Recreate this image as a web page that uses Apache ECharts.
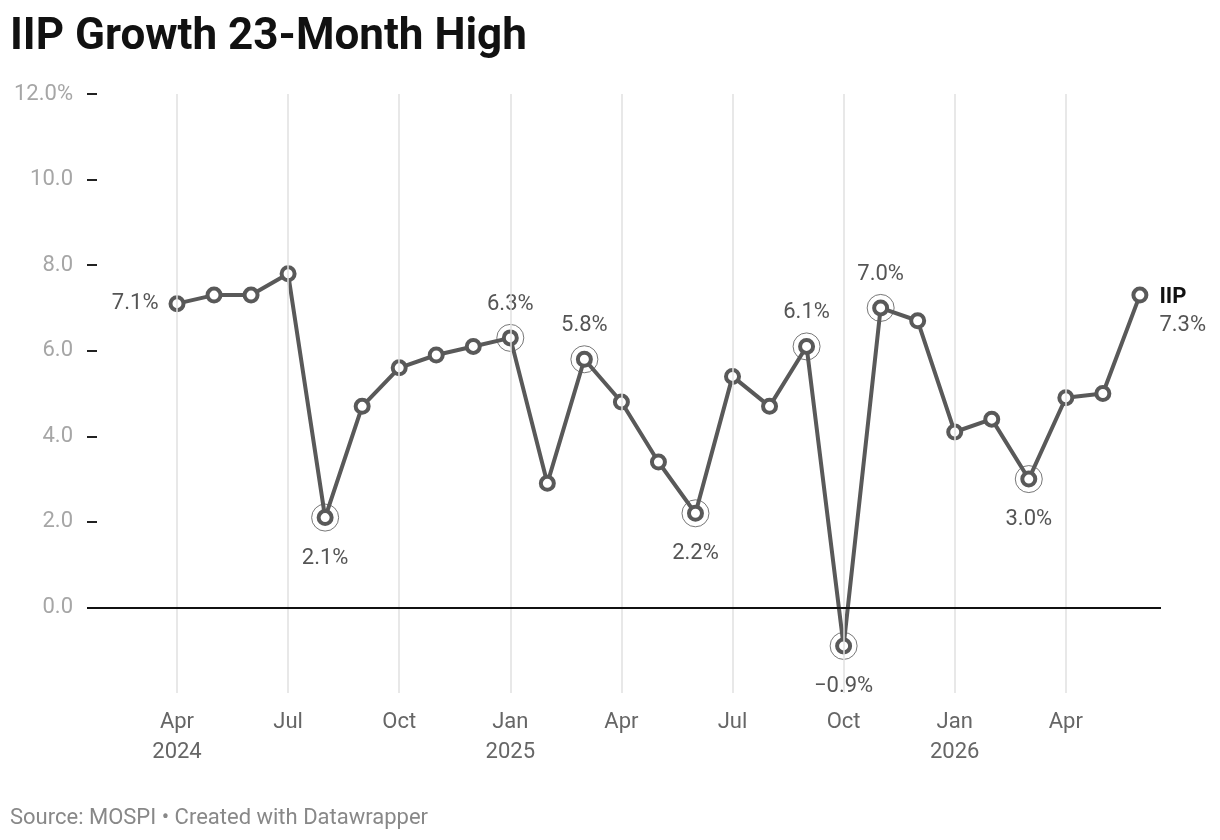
<!DOCTYPE html>
<html>
<head>
<meta charset="utf-8">
<script src="https://cdn.jsdelivr.net/npm/echarts@6/dist/echarts.min.js"></script>
<style>
  html, body { margin: 0; padding: 0; background: #fff; }
  #chart { width: 1220px; height: 840px; }
</style>
</head>
<body>
<div id="chart"></div>
<script>
// IIP growth, % y-o-y
const months = [
  'Apr 2024', 'May 2024', 'Jun 2024', 'Jul 2024', 'Aug 2024', 'Sep 2024', 'Oct 2024', 'Nov 2024', 'Dec 2024',
  'Jan 2025', 'Feb 2025', 'Mar 2025', 'Apr 2025', 'May 2025', 'Jun 2025', 'Jul 2025', 'Aug 2025', 'Sep 2025',
  'Oct 2025', 'Nov 2025', 'Dec 2025', 'Jan 2026', 'Feb 2026', 'Mar 2026', 'Apr 2026', 'May 2026', 'Jun 2026'
];
const iip = [
  7.1, 7.3, 7.3, 7.8, 2.1, 4.7, 5.6, 5.9, 6.1,
  6.3, 2.9, 5.8, 4.8, 3.4, 2.2, 5.4, 4.7, 6.1,
  -0.9, 7.0, 6.7, 4.1, 4.4, 3.0, 4.9, 5.0, 7.3
];
const xTicks = ['Apr 2024', 'Jul 2024', 'Oct 2024', 'Jan 2025', 'Apr 2025', 'Jul 2025', 'Oct 2025', 'Jan 2026', 'Apr 2026'];
const yTicks = [0, 2, 4, 6, 8, 10, 12];
const highlighted = ['Aug 2024', 'Jan 2025', 'Mar 2025', 'Jun 2025', 'Sep 2025', 'Oct 2025', 'Nov 2025', 'Mar 2026'];
const seriesName = 'IIP';

// where the value labels go
const labelSide = {
  'Apr 2024': 'left', 'Aug 2024': 'bottom', 'Jan 2025': 'top', 'Mar 2025': 'top',
  'Jun 2025': 'bottom', 'Sep 2025': 'top', 'Oct 2025': 'bottom', 'Nov 2025': 'top',
  'Mar 2026': 'bottom', 'Jun 2026': 'end'
};

const FONT = 'Roboto, "Noto Sans", sans-serif';
const LINE = '#595959';

function pct(v) {
  const s = Math.abs(v).toFixed(1) + '%';
  return v < 0 ? '\u2212' + s : s;
}

const lineData = iip.map((v, i) => {
  const item = { value: [i, v] };
  const side = labelSide[months[i]];
  if (side === 'end') {
    item.label = {
      show: true, position: 'right', distance: 11, offset: [0, 16],
      formatter: '{n|' + seriesName + '}\n{v|' + pct(v) + '}',
      rich: {
        n: { fontFamily: FONT, fontSize: 22, fontWeight: 'bold', color: '#111', lineHeight: 28 },
        v: { fontFamily: FONT, fontSize: 22, color: '#555', lineHeight: 28 }
      }
    };
  } else if (side) {
    item.label = {
      show: true, position: side,
      distance: side === 'top' ? 14 : side === 'bottom' ? 21 : 10,
      formatter: pct(v)
    };
  }
  return item;
});

const ringData = highlighted.map(m => [months.indexOf(m), iip[months.indexOf(m)]]);

const gridMarks = xTicks.map(m => ({ xAxis: months.indexOf(m) }));

const chart = echarts.init(document.getElementById('chart'));
chart.setOption({
  animation: false,
  textStyle: { fontFamily: FONT },
  title: [
    {
      text: 'IIP Growth 23-Month High',
      left: 10, top: 16, padding: 0,
      textStyle: { fontFamily: FONT, fontSize: 44, fontWeight: 'bold', color: '#111' }
    },
    {
      text: 'Source: MOSPI \u2022 Created with Datawrapper',
      left: 10, top: 807, padding: 0,
      textStyle: { fontFamily: FONT, fontSize: 22, fontWeight: 'normal', color: '#888' }
    }
  ],
  grid: { left: 87, right: 59, top: 94, bottom: 147, containLabel: false },
  xAxis: {
    type: 'value',
    min: -2.43, max: 26.57,
    splitLine: { show: false },
    axisLine: { show: false },
    axisTick: { show: false },
    axisLabel: {
      customValues: xTicks.map(m => months.indexOf(m)),
      margin: 14,
      fontFamily: FONT, fontSize: 22, color: '#666', lineHeight: 30,
      formatter: v => {
        const [mon, yr] = months[Math.round(v)].split(' ');
        return (mon === 'Jan' || Math.round(v) === 0) ? mon + '\n' + yr : mon;
      }
    }
  },
  yAxis: {
    type: 'value',
    min: -2, max: 12,
    splitLine: { show: false },
    axisLine: { show: false, onZero: false },
    axisTick: {
      show: true, inside: true, length: 10,
      customValues: yTicks.filter(t => t !== 0),
      lineStyle: { color: '#222', width: 2 }
    },
    axisLabel: {
      customValues: yTicks,
      margin: 14,
      fontFamily: FONT, fontSize: 22, color: '#a6a6a6',
      formatter: v => v === 12 ? v.toFixed(1) + '%' : v.toFixed(1)
    }
  },
  series: [
    {
      type: 'line',
      data: [],
      silent: true,
      z: 1,
      markLine: {
        silent: true,
        symbol: 'none',
        label: { show: false },
        data: [
          ...gridMarks.map(d => Object.assign({ lineStyle: { color: '#e0e0e0', width: 1.5, type: 'solid' } }, d)),
          { yAxis: 0, lineStyle: { color: '#111', width: 2, type: 'solid' } }
        ]
      }
    },
    {
      type: 'scatter',
      data: ringData,
      silent: true,
      z: 2,
      symbol: 'circle',
      symbolSize: 27,
      itemStyle: { color: 'rgba(255,255,255,0)', borderColor: '#555', borderWidth: 1 }
    },
    {
      name: seriesName,
      type: 'line',
      data: lineData,
      z: 3,
      symbol: 'circle',
      symbolSize: 13,
      showAllSymbol: true,
      lineStyle: { color: LINE, width: 4 },
      itemStyle: { color: '#fff', borderColor: LINE, borderWidth: 4 },
      label: { show: false, fontFamily: FONT, fontSize: 22, color: '#555' }
    }
  ]
});
</script>
</body>
</html>
